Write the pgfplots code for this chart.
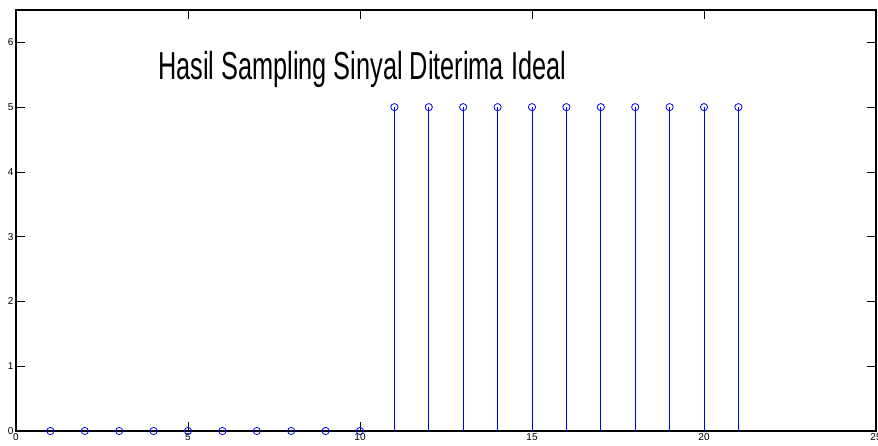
\documentclass[border=0pt]{standalone}
\usepackage{pgfplots}
\pgfplotsset{compat=1.18}
\usepackage{fontspec}
\setmainfont{Liberation Sans}
\newfontfamily\titlefont{Liberation Sans}

\begin{document}
\begin{tikzpicture}[x=1pt,y=1pt]
\useasboundingbox (0,0) rectangle (878,446);
\begin{axis}[
    at={(16pt,15pt)}, anchor=south west,
    width=860pt, height=421pt, scale only axis,
    xmin=0, xmax=25, ymin=0, ymax=6.5,
    xtick={0,5,10,15,20,25},
    ytick={0,1,2,3,4,5,6},
    tick align=inside,
    major tick length=8.6pt,
    tick style={black, line width=0.6pt},
    axis line style={black, line width=1.2pt},
    /pgf/number format/assume math mode=true,
    xticklabel style={yshift=1pt, font=\fontsize{10}{11}\selectfont},
    yticklabel style={xshift=1pt, font=\fontsize{10}{11}\selectfont},
    clip=false,
]
\addplot[ycomb, color={rgb,255:red,0;green,0;blue,255}, line width=0.8pt,
    mark=o, mark size=3.6pt, mark options={solid, line width=0.8pt}] coordinates {
    (1,0) (2,0) (3,0) (4,0) (5,0) (6,0) (7,0) (8,0) (9,0) (10,0)
    (11,5) (12,5) (13,5) (14,5) (15,5) (16,5) (17,5) (18,5) (19,5) (20,5) (21,5)
};
\node[anchor=center, inner sep=0pt] at (axis cs:10.06,5.58)
    {\resizebox{408pt}{\height}{\titlefont\fontsize{39}{39}\selectfont Hasil Sampling Sinyal Diterima Ideal}};
\end{axis}
\end{tikzpicture}
\end{document}
